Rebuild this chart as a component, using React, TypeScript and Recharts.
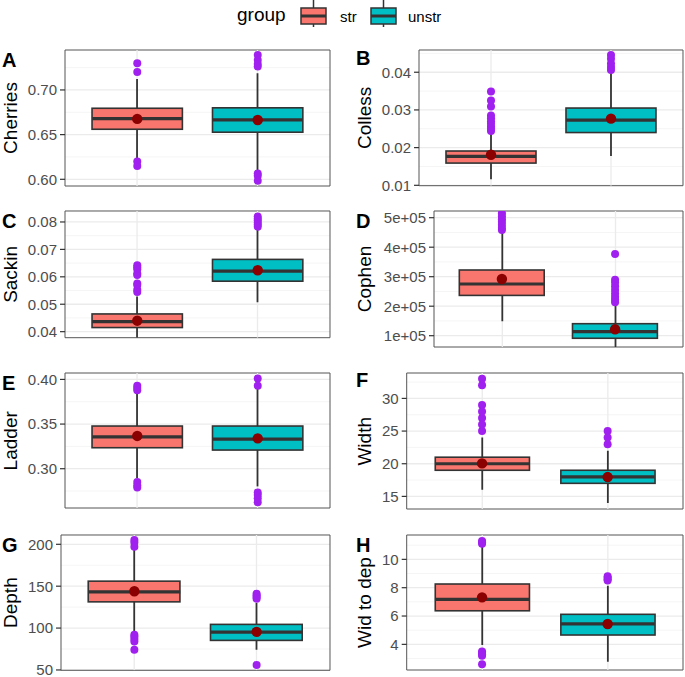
import React from 'react';
import { ComposedChart, Bar, Cell, Scatter, XAxis, YAxis, CartesianGrid, ReferenceArea } from 'recharts';

const groups = ['str', 'unstr'];
const groupFill = ['#F8766D', '#00BFC4'];
const groupPos = [1, 2];

// each box: [lower whisker, Q1, median, Q3, upper whisker]
const cherriesBox = [[0.6235, 0.656, 0.668, 0.6795, 0.7123], [0.6103, 0.6527, 0.6665, 0.68, 0.7187]];
const cherriesMean = [0.6676, 0.6664];
const cherriesOut = [[0.7299, 0.72, 0.6199, 0.615], [0.7391, 0.7335, 0.7291, 0.7262, 0.6066, 0.604, 0.5985]];

const collessBox = [[0.0116, 0.0159, 0.0177, 0.0191, 0.02355], [0.0178, 0.024, 0.0273, 0.0305, 0.0397]];
const collessMean = [0.0181, 0.0277];
const collessOut = [
  [0.0349, 0.0325, 0.0309, 0.0285, 0.0278, 0.027, 0.0263, 0.0256, 0.025, 0.0244],
  [0.0446, 0.0436, 0.0423, 0.0414, 0.0406],
];

const sackinBox = [[0.0366, 0.0415, 0.04365, 0.04646, 0.0528], [0.0507, 0.0584, 0.0621, 0.06635, 0.0773]];
const sackinMean = [0.044, 0.0624];
const sackinOut = [
  [0.0642, 0.0635, 0.0628, 0.0612, 0.0607, 0.0576, 0.057, 0.0553, 0.0545],
  [0.082, 0.0812, 0.0805, 0.0797, 0.079, 0.0783],
];

const cophenBox = [[149000, 236600, 275300, 322700, 448000], [50000, 91300, 113600, 140700, 206800]];
const cophenMean = [292200, 121700];
const cophenOut = [
  [515000, 505000, 495000, 485000, 475000, 465000, 458000],
  [377000, 290000, 280000, 268000, 255000, 243000, 232000, 222000, 213000],
];

const ladderBox = [[0.2896, 0.3235, 0.3356, 0.3478, 0.3848], [0.2802, 0.3209, 0.3332, 0.3478, 0.394]];
const ladderMean = [0.3367, 0.334];
const ladderOut = [[0.393, 0.3905, 0.388, 0.285, 0.2815, 0.279], [0.401, 0.393, 0.2735, 0.2705, 0.267, 0.2625]];

const widthBox = [[16, 19, 20, 21, 24], [14, 17, 18, 19, 22]];
const widthMean = [20.05, 17.96];
const widthOut = [[25, 26, 27, 28, 29, 32, 33], [23, 24, 25]];

const depthBox = [[94, 131.3, 143.2, 156, 194], [74, 85.3, 95.1, 104.4, 130]];
const depthMean = [144, 95.5];
const depthOut = [[205, 202, 197, 92, 90, 87, 84, 74], [141, 139, 137, 135, 56]];

const wtdBox = [[3.95, 6.37, 7.18, 8.26, 10.9], [2.77, 4.66, 5.44, 6.12, 8.14]];
const wtdMean = [7.32, 5.44];
const wtdOut = [[11.3, 11.2, 11.1, 3.5, 3.4, 3.3, 3.2, 2.6], [8.8, 8.7, 8.6, 8.5]];

const FONT = '"Liberation Sans", Arial, sans-serif';
const dec2 = (v: number) => v.toFixed(2);
const sci = (v: number) => `${Math.round(v / 1e5)}e+05`;
const int = (v: number) => String(v);

type Spec = {
  letter: string; title: string; box: number[][]; mean: number[]; out: number[][];
  domain: [number, number]; ticks: number[]; minor: number[]; fmt: (v: number) => string;
  col: number; left: number; top: number; right: number; bottom: number; letterY: number;
};

const panels: Spec[] = [
  { letter: 'A', title: 'Cherries', box: cherriesBox, mean: cherriesMean, out: cherriesOut,
    domain: [0.5925, 0.7447], ticks: [0.6, 0.65, 0.7], minor: [0.625, 0.675, 0.725], fmt: dec2,
    col: 0, left: 65, top: 50, right: 330, bottom: 186, letterY: 67 },
  { letter: 'B', title: 'Colless', box: collessBox, mean: collessMean, out: collessOut,
    domain: [0.0099, 0.0459], ticks: [0.01, 0.02, 0.03, 0.04], minor: [0.015, 0.025, 0.035, 0.045], fmt: dec2,
    col: 1, left: 419, top: 50, right: 683, bottom: 185.7, letterY: 65 },
  { letter: 'C', title: 'Sackin', box: sackinBox, mean: sackinMean, out: sackinOut,
    domain: [0.0378, 0.084], ticks: [0.04, 0.05, 0.06, 0.07, 0.08], minor: [0.045, 0.055, 0.065, 0.075], fmt: dec2,
    col: 0, left: 65, top: 211, right: 330, bottom: 337.7, letterY: 228 },
  { letter: 'D', title: 'Cophen', box: cophenBox, mean: cophenMean, out: cophenOut,
    domain: [61700, 522700], ticks: [100000, 200000, 300000, 400000, 500000], minor: [150000, 250000, 350000, 450000], fmt: sci,
    col: 1, left: 434, top: 211, right: 683, bottom: 347, letterY: 228 },
  { letter: 'E', title: 'Ladder', box: ladderBox, mean: ladderMean, out: ladderOut,
    domain: [0.256, 0.4072], ticks: [0.3, 0.35, 0.4], minor: [0.275, 0.325, 0.375], fmt: dec2,
    col: 0, left: 65, top: 373.3, right: 330, bottom: 508.3, letterY: 390 },
  { letter: 'F', title: 'Width', box: widthBox, mean: widthMean, out: widthOut,
    domain: [13.07, 33.89], ticks: [15, 20, 25, 30], minor: [17.5, 22.5, 27.5, 32.5], fmt: int,
    col: 1, left: 406.7, top: 373.3, right: 683, bottom: 509.3, letterY: 387 },
  { letter: 'G', title: 'Depth', box: depthBox, mean: depthMean, out: depthOut,
    domain: [49.6, 211.1], ticks: [50, 100, 150, 200], minor: [75, 125, 175], fmt: int,
    col: 0, left: 61, top: 535, right: 330, bottom: 670.3, letterY: 551.5 },
  { letter: 'H', title: 'Wid to dep', box: wtdBox, mean: wtdMean, out: wtdOut,
    domain: [2.19, 11.72], ticks: [4, 6, 8, 10], minor: [3, 5, 7, 9, 11], fmt: int,
    col: 1, left: 406.7, top: 535, right: 683, bottom: 670, letterY: 551.5 },
];

// whisker bar: also paints the vertical major grid line behind it, using the bar's background band
const Whisker = (p: any) => {
  const cx = p.x + p.width / 2;
  const y0 = Math.min(p.y, p.y + p.height);
  const y1 = Math.max(p.y, p.y + p.height);
  const bg = p.background;
  return (
    <g>
      {bg && <line x1={cx} x2={cx} y1={bg.y} y2={bg.y + bg.height} stroke="#EBEBEB" strokeWidth={1.3} />}
      <line x1={cx} x2={cx} y1={y0} y2={y1} stroke="#333333" strokeWidth={1.8} />
    </g>
  );
};

const BoxShape = (p: any) => {
  const y0 = Math.min(p.y, p.y + p.height);
  return (
    <rect x={p.x} y={y0} width={p.width} height={Math.abs(p.height)}
      fill={p.fill} stroke="#333333" strokeWidth={1.6} />
  );
};

const Panel = ({ s }: { s: Spec }) => {
  const colLeft = s.col === 0 ? 0 : 340;
  const chartW = s.col === 0 ? 340 : 345;
  const plotW = s.right - s.left;
  const bw = (0.75 * plotW) / 2.2;
  const height = s.bottom - s.top + 4 + 8 + 2;
  const rows = groups.map((g, i) => ({
    x: groupPos[i], group: g,
    wh: [s.box[i][0], s.box[i][4]],
    hinge: [s.box[i][1], s.box[i][3]],
    med: s.box[i][2],
    mean: s.mean[i],
  }));
  const outRows = s.out.flatMap((arr, i) => arr.map((v) => ({ x: groupPos[i], v })));
  const Median = (p: any) => (
    <line x1={p.cx - bw / 2} x2={p.cx + bw / 2} y1={p.cy} y2={p.cy} stroke="#333333" strokeWidth={3.2} />
  );
  return (
    <div style={{ position: 'absolute', left: colLeft, top: s.top - 4 }}>
      <ComposedChart width={chartW} height={height} data={rows}
        margin={{ top: 4, right: colLeft + chartW - s.right, bottom: 2, left: 0 }}>
        <CartesianGrid xAxisId="b" vertical={false} horizontalValues={s.minor} stroke="#F2F2F2" strokeWidth={0.8} />
        <CartesianGrid xAxisId="b" vertical={false} horizontalValues={s.ticks} stroke="#EBEBEB" strokeWidth={1.3} />
        <XAxis xAxisId="b" type="number" dataKey="x" domain={[0.4, 2.6]} ticks={groupPos} allowDataOverflow
          axisLine={false} tick={false} tickLine={{ stroke: '#333333', strokeWidth: 1.2 }} tickSize={5} height={8} />
        <XAxis xAxisId="w" type="number" dataKey="x" domain={[0.4, 2.6]} allowDataOverflow hide />
        <YAxis type="number" domain={s.domain} ticks={s.ticks} allowDataOverflow width={s.left - colLeft}
          axisLine={false} tickFormatter={s.fmt} tickSize={5} tickMargin={3}
          tickLine={{ stroke: '#333333', strokeWidth: 1.2 }}
          tick={{ fontSize: 15, fill: '#4D4D4D', fontFamily: FONT }} />
        <Bar xAxisId="w" dataKey="wh" barSize={4} shape={Whisker} isAnimationActive={false} />
        <Bar xAxisId="b" dataKey="hinge" barSize={bw} shape={BoxShape} isAnimationActive={false}>
          {rows.map((r, i) => <Cell key={r.group} fill={groupFill[i]} />)}
        </Bar>
        <Scatter xAxisId="b" dataKey="med" shape={Median} isAnimationActive={false} />
        <Scatter xAxisId="b" data={outRows} dataKey="v" isAnimationActive={false}
          shape={(p: any) => <circle cx={p.cx} cy={p.cy} r={4} fill="#A020F0" />} />
        <Scatter xAxisId="b" dataKey="mean" isAnimationActive={false}
          shape={(p: any) => <circle cx={p.cx} cy={p.cy} r={5.2} fill="#8B0000" />} />
        <ReferenceArea xAxisId="b" x1={0.4} x2={2.6} y1={s.domain[0]} y2={s.domain[1]}
          fill="none" stroke="#555555" strokeWidth={1} ifOverflow="visible" />
      </ComposedChart>
    </div>
  );
};

const LegendKey = ({ x, fill }: { x: number; fill: string }) => (
  <g>
    <line x1={x + 12.5} x2={x + 12.5} y1={0} y2={27} stroke="#333333" strokeWidth={1.5} />
    <rect x={x} y={8} width={25} height={16} fill={fill} stroke="#333333" strokeWidth={1.5} />
    <line x1={x} x2={x + 25} y1={16} y2={16} stroke="#333333" strokeWidth={3} />
  </g>
);

export default function App() {
  return (
    <div style={{ position: 'absolute', left: 0, top: 0, width: 685, height: 677, background: '#fff', fontFamily: FONT }}>
      {panels.map((s) => <Panel key={s.letter} s={s} />)}
      <svg width={685} height={677} style={{ position: 'absolute', left: 0, top: 0, pointerEvents: 'none' }}>
        <text x={237} y={21} fontSize={19} fontFamily={FONT} fill="#000">group</text>
        <LegendKey x={301} fill={groupFill[0]} />
        <text x={340} y={21.5} fontSize={15} fontFamily={FONT} fill="#000">{groups[0]}</text>
        <LegendKey x={371} fill={groupFill[1]} />
        <text x={408} y={21.5} fontSize={15} fontFamily={FONT} fill="#000">{groups[1]}</text>
        {panels.map((s) => {
          const tx = s.col === 0 ? 17 : 371;
          const cy = (s.top + s.bottom) / 2;
          return (
            <g key={s.letter}>
              <text x={s.col === 0 ? 2 : 356} y={s.letterY} fontSize={20} fontWeight="bold" fontFamily={FONT} fill="#000">
                {s.letter}
              </text>
              <text transform={`translate(${tx},${cy}) rotate(-90)`} textAnchor="middle" fontSize={19}
                fontFamily={FONT} fill="#000">
                {s.title}
              </text>
            </g>
          );
        })}
      </svg>
    </div>
  );
}
